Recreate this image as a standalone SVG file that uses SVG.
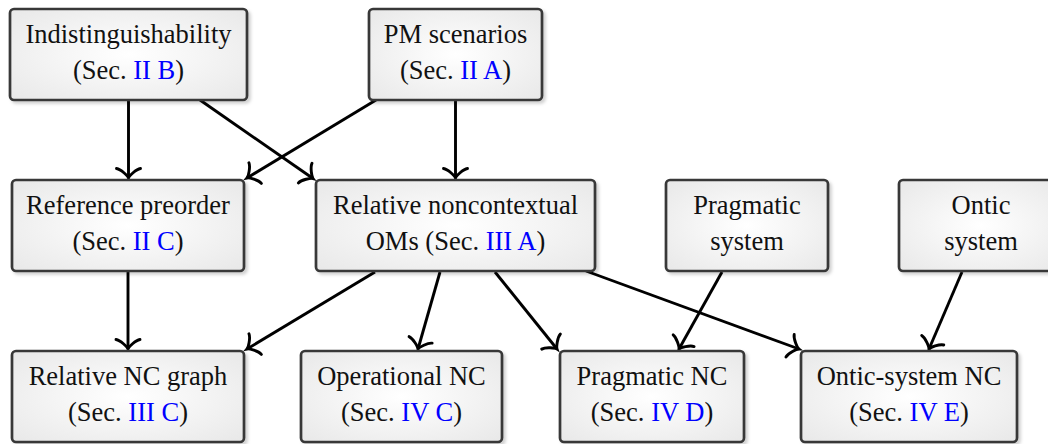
<svg xmlns="http://www.w3.org/2000/svg" width="1048" height="444" viewBox="0 0 1048 444">
<style>
  .box { fill: url(#g); stroke: #383838; stroke-width: 2.7; filter: url(#sh); }
  .t { font-family: "Liberation Serif", "Times New Roman", serif; font-size: 26.5px; fill: #111; text-anchor: middle; }
  .b { fill: #0000ff; }
  .e { fill: none; stroke: #000; stroke-width: 2.9; marker-end: url(#arr); }
</style>
<defs>
  <radialGradient id="g" cx="0.5" cy="0.5" r="0.7">
    <stop offset="0" stop-color="#ffffff"/>
    <stop offset="1" stop-color="#e8e8e8"/>
  </radialGradient>
  <filter id="sh" x="-10%" y="-10%" width="125%" height="130%">
    <feDropShadow dx="2.5" dy="2.5" stdDeviation="1.5" flood-color="#000" flood-opacity="0.18"/>
  </filter>
  <marker id="arr" markerUnits="userSpaceOnUse" markerWidth="30" markerHeight="30" refX="0" refY="0" orient="auto" overflow="visible" viewBox="-15 -15 30 30">
    <path d="M -9.5,-12 C -8.8,-7.5 -2,-0.7 0,0 C -2,0.7 -8.8,7.5 -9.5,12" fill="none" stroke="#000" stroke-width="2.9" stroke-linecap="round"/>
  </marker>
</defs>

<g id="connectors">
  <line class="e" x1="128.5" y1="101" x2="128.5" y2="178"/>
  <line class="e" x1="200" y1="100" x2="313" y2="178.5"/>
  <line class="e" x1="376" y1="100" x2="247" y2="178"/>
  <line class="e" x1="455.5" y1="101" x2="455.5" y2="178"/>
  <line class="e" x1="128" y1="272" x2="128" y2="349"/>
  <line class="e" x1="375" y1="272" x2="247" y2="349"/>
  <line class="e" x1="440" y1="272" x2="418" y2="349"/>
  <line class="e" x1="495" y1="272" x2="557" y2="349"/>
  <line class="e" x1="586" y1="271" x2="799" y2="349"/>
  <line class="e" x1="722" y1="272" x2="679" y2="349"/>
  <line class="e" x1="962" y1="272" x2="929" y2="349"/>
</g>

<g id="n1">
  <rect class="box" x="10" y="9" width="237" height="91" rx="4"/>
  <text class="t" x="128.5" y="43">Indistinguishability</text>
  <text class="t" x="128.5" y="79">(Sec. <tspan class="b">II B</tspan>)</text>
</g>
<g id="n2">
  <rect class="box" x="369" y="9" width="173" height="91" rx="4"/>
  <text class="t" x="455.5" y="43">PM scenarios</text>
  <text class="t" x="455.5" y="79">(Sec. <tspan class="b">II A</tspan>)</text>
</g>
<g id="n3">
  <rect class="box" x="12" y="180" width="232" height="91" rx="4"/>
  <text class="t" x="128" y="214">Reference preorder</text>
  <text class="t" x="128" y="250">(Sec. <tspan class="b">II C</tspan>)</text>
</g>
<g id="n4">
  <rect class="box" x="316" y="180" width="279" height="91" rx="4"/>
  <text class="t" x="455.5" y="214">Relative noncontextual</text>
  <text class="t" x="455.5" y="250">OMs (Sec. <tspan class="b">III A</tspan>)</text>
</g>
<g id="n5">
  <rect class="box" x="666" y="180" width="162" height="91" rx="4"/>
  <text class="t" x="747" y="214">Pragmatic</text>
  <text class="t" x="747" y="250">system</text>
</g>
<g id="n6">
  <rect class="box" x="899" y="180" width="164" height="91" rx="4"/>
  <text class="t" x="981" y="214">Ontic</text>
  <text class="t" x="981" y="250">system</text>
</g>
<g id="n7">
  <rect class="box" x="12" y="351" width="232" height="91" rx="4"/>
  <text class="t" x="128" y="385">Relative NC graph</text>
  <text class="t" x="128" y="421">(Sec. <tspan class="b">III C</tspan>)</text>
</g>
<g id="n8">
  <rect class="box" x="301" y="351" width="201" height="91" rx="4"/>
  <text class="t" x="401.5" y="385">Operational NC</text>
  <text class="t" x="401.5" y="421">(Sec. <tspan class="b">IV C</tspan>)</text>
</g>
<g id="n9">
  <rect class="box" x="560" y="351" width="184" height="91" rx="4"/>
  <text class="t" x="652" y="385">Pragmatic NC</text>
  <text class="t" x="652" y="421">(Sec. <tspan class="b">IV D</tspan>)</text>
</g>
<g id="n10">
  <rect class="box" x="801" y="351" width="216" height="91" rx="4"/>
  <text class="t" x="909" y="385">Ontic-system NC</text>
  <text class="t" x="909" y="421">(Sec. <tspan class="b">IV E</tspan>)</text>
</g>
</svg>
